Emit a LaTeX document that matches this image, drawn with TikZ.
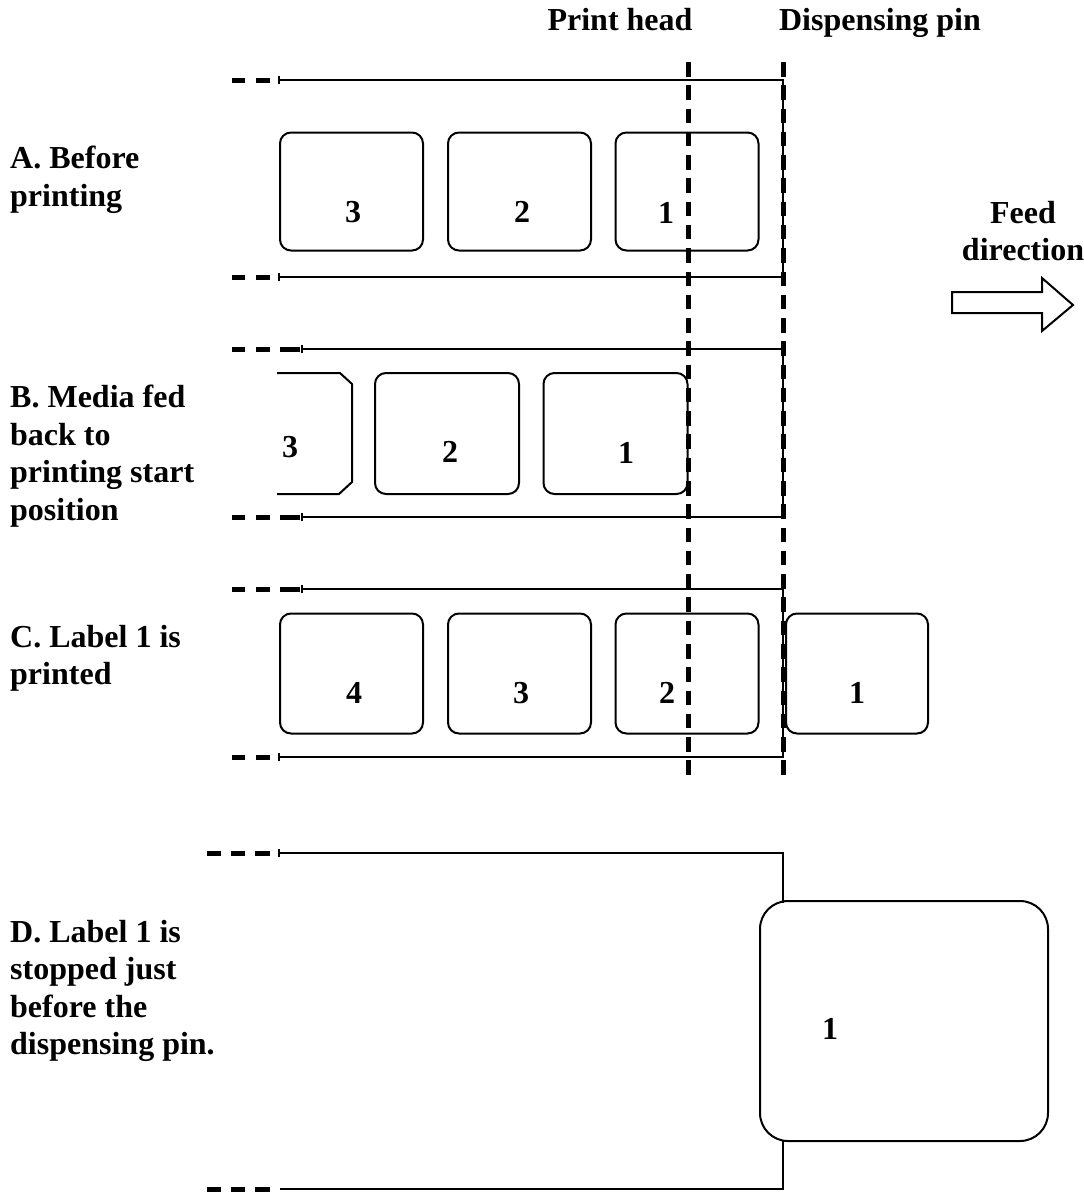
\documentclass[tikz,border=0pt]{standalone}
\usepackage{fontspec}
\setmainfont{Liberation Serif}
\begin{document}
\begin{tikzpicture}[x=1pt,y=-1pt,
  tape/.style={line width=2pt},
  tdash/.style={line width=5pt},
  pinline/.style={line width=5pt,dash pattern=on 14.5pt off 8.78pt},
  lbl/.style={draw,line width=2pt,rounded corners=11pt,inner sep=0pt,minimum width=143pt,minimum height=118pt},
  txt/.style={font=\fontsize{32}{37.5}\selectfont\bfseries,align=left,inner sep=0pt,anchor=north west},
  hd/.style={font=\fontsize{32}{37.5}\selectfont\bfseries,inner sep=0pt},
  num/.style={font=\fontsize{32}{32}\selectfont\bfseries,inner sep=0pt,anchor=base}]
\useasboundingbox (0,0) rectangle (1084,1195);
\fill[white] (0,0) rectangle (1084,1195);

% headings
\node[hd,anchor=base] (ph) at (620,30) {Print head};
\node[hd,anchor=base] (dp) at (880,30) {Dispensing pin};
\node[hd,align=center] (feed) at (1023,231) {Feed\\direction};
\draw[line width=2pt,line join=miter] (952,292) -- (1042,292) -- (1042,278) -- (1073,305) -- (1042,331) -- (1042,313) -- (952,313) -- cycle;

% side texts
\node[txt] (tA) at (10,146) {A. Before\\printing};
\node[txt] (tB) at (10,385) {B. Media fed\\back to\\printing start\\position};
\node[txt] (tC) at (10,625) {C. Label 1 is\\printed};
\node[txt] (tD) at (10,920) {D. Label 1 is\\stopped just\\before the\\dispensing pin.};

% ---------- A ----------
\coordinate (A1) at (280,80); \coordinate (A2) at (783,80);
\coordinate (A3) at (783,277); \coordinate (A4) at (280,277);
\draw[tape] (A1) -- (A2) -- (A3) -- (A4);
\draw[tape] (279,76) -- (279,84); \draw[tape] (279,273) -- (279,281);
\draw[tdash] (232,80) -- (245,80) (256,80) -- (270,80);
\draw[tdash] (232,277) -- (245,277) (256,277) -- (270,277);
\node[lbl] (a3) at (351.5,191.5) {};
\node[lbl] (a2) at (519.5,191.5) {};
\node[lbl] (a1) at (687,191.5) {};
\node[num] (na3) at (353,222) {3};
\node[num] (na2) at (522,222) {2};
\node[num] (na1) at (666,223) {1};

% ---------- B ----------
\coordinate (B1) at (302,349); \coordinate (B2) at (783,349);
\coordinate (B3) at (783,517); \coordinate (B4) at (302,517);
\draw[tape] (B1) -- (B2) -- (B3) -- (B4);
\draw[tdash] (232,349) -- (245,349) (256,349) -- (270,349) (280,349) -- (300,349);
\draw[tdash] (232,517) -- (245,517) (256,517) -- (270,517) (280,517) -- (300,517);
\draw[tape] (302,345) -- (302,353); \draw[tape] (302,513) -- (302,521);
\draw[tape,line join=round] (277,373) -- (340,373) -- (352,384) -- (352,482) -- (339,494) -- (277,494);
\node[lbl,minimum width=144pt,minimum height=121pt] (b2) at (447,433.5) {};
\node[lbl,minimum width=144pt,minimum height=121pt] (b1) at (615.5,433.5) {};
\node[num] (nb3) at (290,457) {3};
\node[num] (nb2) at (450,462) {2};
\node[num] (nb1) at (626,463) {1};

% ---------- C ----------
\coordinate (C1) at (302,589); \coordinate (C2) at (783,589);
\coordinate (C3) at (783,757); \coordinate (C4) at (280,757);
\draw[tape] (C1) -- (C2) -- (C3) -- (C4);
\draw[tdash] (232,589) -- (245,589) (256,589) -- (270,589) (280,589) -- (300,589);
\draw[tape] (302,585) -- (302,593);
\draw[tdash] (232,757) -- (245,757) (256,757) -- (270,757);
\draw[tape] (279,753) -- (279,761);
\node[lbl,minimum height=120pt] (c4) at (351.5,673.5) {};
\node[lbl,minimum height=120pt] (c3) at (519.5,673.5) {};
\node[lbl,minimum height=120pt] (c2) at (687,673.5) {};
\node[lbl,minimum width=142pt,minimum height=120pt] (c1) at (857,673.5) {};
\node[num] (nc4) at (354,703) {4};
\node[num] (nc3) at (521,703) {3};
\node[num] (nc2) at (667,703) {2};
\node[num] (nc1) at (857,703) {1};

% pins
\coordinate (ph1) at (688,62); \coordinate (ph2) at (688,775);
\coordinate (dp1) at (783,62); \coordinate (dp2) at (783,775);
\draw[pinline] (ph1) -- (ph2);
\draw[pinline] (dp1) -- (dp2);

% ---------- D ----------
\node[draw,line width=2pt,rounded corners=28pt,inner sep=0pt,minimum width=288pt,minimum height=240pt] (d1) at (904,1021) {};
\coordinate (D1) at (280,853); \coordinate (D2) at (783,853); \coordinate (D3) at (783,903);
\coordinate (D4) at (783,1140); \coordinate (D5) at (783,1189); \coordinate (D6) at (280,1189);
\draw[tape] (D1) -- (D2) -- (D3);
\draw[tape] (D4) -- (D5) -- (D6);
\draw[tdash] (207,853) -- (221,853) (231,853) -- (245,853) (255,853) -- (270,853);
\draw[tape] (279,849) -- (279,857);
\draw[tdash] (207,1189) -- (221,1189) (231,1189) -- (245,1189) (255,1189) -- (270,1189);
\node[num] (nd1) at (830,1039) {1};
\end{tikzpicture}
\end{document}
